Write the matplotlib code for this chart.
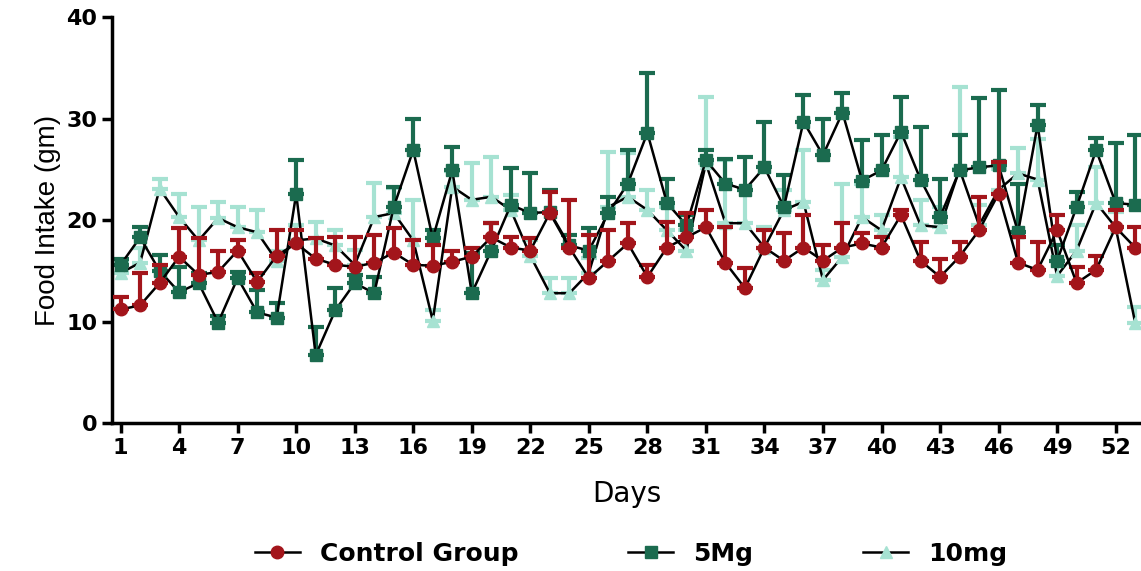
import numpy as np
import matplotlib
matplotlib.use("Agg")
import matplotlib.pyplot as plt
from matplotlib.lines import Line2D

plt.rcParams['font.family'] = ['Liberation Sans', 'DejaVu Sans']

days = list(range(1, 54))

control = [11.2, 11.6, 13.8, 16.4, 14.6, 14.9, 17.0, 13.9, 16.5, 17.7,
           16.2, 15.6, 15.4, 15.8, 16.8, 15.6, 15.5, 15.9, 16.4, 18.3,
           17.3, 17.0, 20.7, 17.3, 14.3, 16.0, 17.7, 14.4, 17.3, 18.3,
           19.3, 15.8, 13.3, 17.3, 16.0, 17.3, 16.0, 17.3, 17.7, 17.3,
           20.5, 16.0, 14.4, 16.4, 19.0, 22.6, 15.8, 15.1, 19.0, 13.8,
           15.1, 19.3, 17.3]
control_sem = [1.2, 3.2, 1.8, 2.8, 3.6, 2.1, 1.0, 0.9, 2.5, 1.3,
               2.0, 2.7, 2.9, 2.7, 2.4, 2.4, 2.0, 1.1, 0.9, 1.4,
               1.0, 1.2, 2.1, 4.7, 4.2, 3.0, 2.0, 1.2, 2.5, 2.4,
               1.7, 3.5, 2.0, 1.7, 2.7, 3.2, 1.5, 2.4, 1.0, 1.0,
               0.5, 1.8, 1.8, 1.4, 3.3, 3.1, 2.5, 2.7, 1.5, 1.6,
               1.4, 1.7, 2.0]

mg5 = [15.6, 18.3, 15.0, 12.9, 13.8, 9.9, 14.3, 10.9, 10.4, 22.6,
       6.7, 11.1, 13.8, 12.8, 21.3, 26.9, 18.2, 24.9, 12.8, 17.0,
       21.5, 20.7, 20.8, 17.5, 17.0, 20.7, 23.6, 28.6, 21.7, 19.5,
       25.9, 23.6, 23.0, 25.2, 21.3, 29.7, 26.4, 30.6, 23.9, 24.9,
       28.7, 24.0, 20.3, 24.9, 25.2, 25.4, 18.8, 29.4, 16.0, 21.3,
       26.9, 21.7, 21.5]
mg5_sem = [0.6, 1.0, 1.6, 2.5, 1.0, 0.7, 0.6, 2.2, 1.4, 3.3,
           2.8, 2.2, 0.8, 1.6, 2.0, 3.1, 0.8, 2.3, 4.0, 2.7,
           3.6, 3.9, 2.2, 1.0, 2.2, 1.6, 3.3, 5.9, 2.4, 1.0,
           1.0, 2.4, 3.2, 4.5, 3.1, 2.6, 3.6, 1.9, 4.0, 3.5,
           3.4, 5.2, 3.8, 3.5, 6.8, 7.4, 4.8, 1.9, 1.5, 1.5,
           1.2, 5.9, 6.9]

mg10 = [14.8, 15.8, 23.1, 20.3, 18.0, 20.2, 19.3, 18.8, 16.0, 18.0,
        18.2, 17.5, 15.6, 20.3, 20.7, 18.0, 10.1, 23.3, 22.0, 22.3,
        21.0, 16.5, 12.8, 12.8, 14.8, 21.3, 22.3, 21.0, 19.0, 17.0,
        25.6, 19.7, 19.7, 17.3, 21.0, 21.8, 14.1, 16.4, 20.3, 19.0,
        24.2, 19.5, 19.3, 25.0, 19.5, 23.0, 24.6, 24.0, 14.5, 17.0,
        21.7, 19.3, 9.9]
mg10_sem = [1.2, 1.5, 1.0, 2.3, 3.3, 1.6, 2.0, 2.2, 1.0, 1.5,
            1.6, 1.5, 1.5, 3.4, 2.5, 4.0, 1.0, 1.5, 3.6, 3.9,
            1.5, 1.5, 1.5, 1.5, 1.5, 5.4, 4.3, 2.0, 2.3, 2.0,
            6.5, 6.2, 3.3, 2.0, 2.0, 5.1, 1.0, 7.2, 3.3, 1.5,
            4.0, 2.5, 2.0, 8.1, 2.0, 2.0, 2.5, 4.0, 1.5, 2.5,
            3.5, 1.5, 1.5]

red = '#a3151b'
dark_green = '#1b6b4f'
light_teal = '#a6e2d2'

fig = plt.figure(figsize=(11.41, 5.71), dpi=100)
ax = fig.add_axes([0.098, 0.259, 0.902, 0.711])

series = [
    (mg10, mg10_sem, light_teal, '^', '10mg', 1),
    (mg5, mg5_sem, dark_green, 's', '5Mg', 2),
    (control, control_sem, red, 'o', 'Control Group', 3),
]
for vals, sem, col, mk, name, z in series:
    ax.errorbar(days, vals, yerr=[np.zeros(len(sem)), sem], fmt='none',
                ecolor=col, elinewidth=3, capsize=6, capthick=3, zorder=z)
    ax.plot(days, vals, color='black', lw=1.8, zorder=z + 0.3)
    ax.plot(days, vals, linestyle='none', marker=mk, ms=9, color=col,
            zorder=z + 0.5)

ax.set_xlim(0.55, 53.3)
ax.set_ylim(0, 40)
ax.set_xticks(list(range(1, 53, 3)))
ax.set_yticks([0, 10, 20, 30, 40])
ax.tick_params(axis='both', width=2.5, length=7, labelsize=16)
for lbl in ax.get_xticklabels() + ax.get_yticklabels():
    lbl.set_fontweight('bold')
    lbl.set_family('DejaVu Sans')
for s in ['top', 'right']:
    ax.spines[s].set_visible(False)
for s in ['left', 'bottom']:
    ax.spines[s].set_linewidth(2.5)

ax.set_ylabel('Food Intake (gm)', fontsize=20, labelpad=4)
ax.set_xlabel('Days', fontsize=20, labelpad=16, family='DejaVu Sans')

handles = [
    Line2D([], [], color='black', lw=1.8, marker='o', ms=9,
           mfc=red, mec=red),
    Line2D([], [], color='black', lw=1.8, marker='s', ms=9,
           mfc=dark_green, mec=dark_green),
    Line2D([], [], color='black', lw=1.8, marker='^', ms=9,
           mfc=light_teal, mec=light_teal),
]
fig.legend(handles, ['Control Group', '5Mg', '10mg'], loc='lower center',
           bbox_to_anchor=(0.553, -0.03), ncol=3, frameon=False,
           columnspacing=4.4, handlelength=1.8,
           prop={'weight': 'bold', 'size': 18, 'family': 'DejaVu Sans'})

fig.savefig('out.png', dpi=100)
